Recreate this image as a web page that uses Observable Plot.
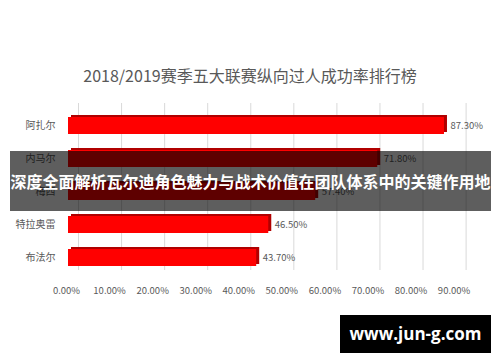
<!DOCTYPE html>
<html>
<head>
<meta charset="utf-8">
<script src="https://cdn.jsdelivr.net/npm/d3@7"></script>
<script src="https://cdn.jsdelivr.net/npm/@observablehq/plot@0.6"></script>
<style>
  html, body { margin: 0; padding: 0; background: #fff; }
  #wrap { position: relative; width: 500px; height: 362px; overflow: hidden; background: #fff; font-family: "Noto Sans CJK SC", "Noto Sans", sans-serif; }
  #chart { position: absolute; left: 0; top: 0; }
  #title { position: absolute; left: 0; top: 65px; width: 500px; line-height: 20px; text-align: center; font-size: 16px; color: #595959; white-space: nowrap; }
  #banner { position: absolute; left: 10px; top: 151px; width: 481px; height: 60px; line-height: 60px; background: rgba(0,0,0,0.63); color: #fff; font-weight: bold; font-size: 16px; text-align: center; white-space: nowrap; letter-spacing: 0; }
  #mark { position: absolute; left: 340px; top: 315px; width: 151px; height: 38px; line-height: 38px; background: #000; color: #fff; font-family: "Open Sans", "DejaVu Sans", sans-serif; font-weight: bold; font-size: 17px; text-align: center; white-space: nowrap; }
</style>
</head>
<body>
<div id="wrap">
  <div id="chart"></div>
  <div id="title"></div>
  <div id="banner"></div>
  <div id="mark"></div>
</div>
<script>
const players = ["阿扎尔", "内马尔", "梅西", "特拉奥雷", "布法尔"];
const rates = [0.873, 0.718, 0.574, 0.465, 0.437];
const tickValues = [0, 0.1, 0.2, 0.3, 0.4, 0.5, 0.6, 0.7, 0.8, 0.9];
const titleText = "2018/2019赛季五大联赛纵向过人成功率排行榜";
const bannerText = "深度全面解析瓦尔迪角色魅力与战术价值在团队体系中的关键作用地";
const watermarkText = "www.jun-g.com";

const data = players.map((name, i) => ({name, rate: rates[i]}));
const pct = d => (d * 100).toFixed(2) + "%";

const chart = Plot.plot({
  width: 500,
  height: 362,
  marginLeft: 68,
  marginRight: 44,
  marginTop: 103,
  marginBottom: 92,
  style: {fontFamily: "'Noto Sans CJK SC', 'Noto Sans', sans-serif", fontSize: "10px", color: "#595959", background: "transparent", overflow: "visible"},
  x: {domain: [0, 0.9], range: [68, 455.6]},
  y: {domain: players, range: [100.25, 281.75], padding: 0.5},
  marks: [
    Plot.ruleX(tickValues, {x: d => d, dx: 10, stroke: "#d9d9d9", strokeWidth: 1}),
    Plot.barX(data, {y: "name", x: "rate", fill: "#b00000", dx: 3, dy: -2}),
    Plot.barX(data, {y: "name", x: "rate", fill: "#ff0000"}),
    Plot.text(data, {y: "name", x: "rate", text: d => pct(d.rate), textAnchor: "start", dx: 6, fill: "#595959", fontSize: 9.5}),
    Plot.axisY({tickSize: 0, tickPadding: 13, fontSize: 10, label: null, fill: "#595959"}),
    Plot.axisX({ticks: tickValues, tickSize: 0, tickPadding: 17, tickFormat: pct, dx: -2, label: null, fontSize: 9.5, fill: "#595959"})
  ]
});
document.getElementById("chart").appendChild(chart);
document.getElementById("title").textContent = titleText;
document.getElementById("banner").textContent = bannerText;
document.getElementById("mark").textContent = watermarkText;
</script>
</body>
</html>
